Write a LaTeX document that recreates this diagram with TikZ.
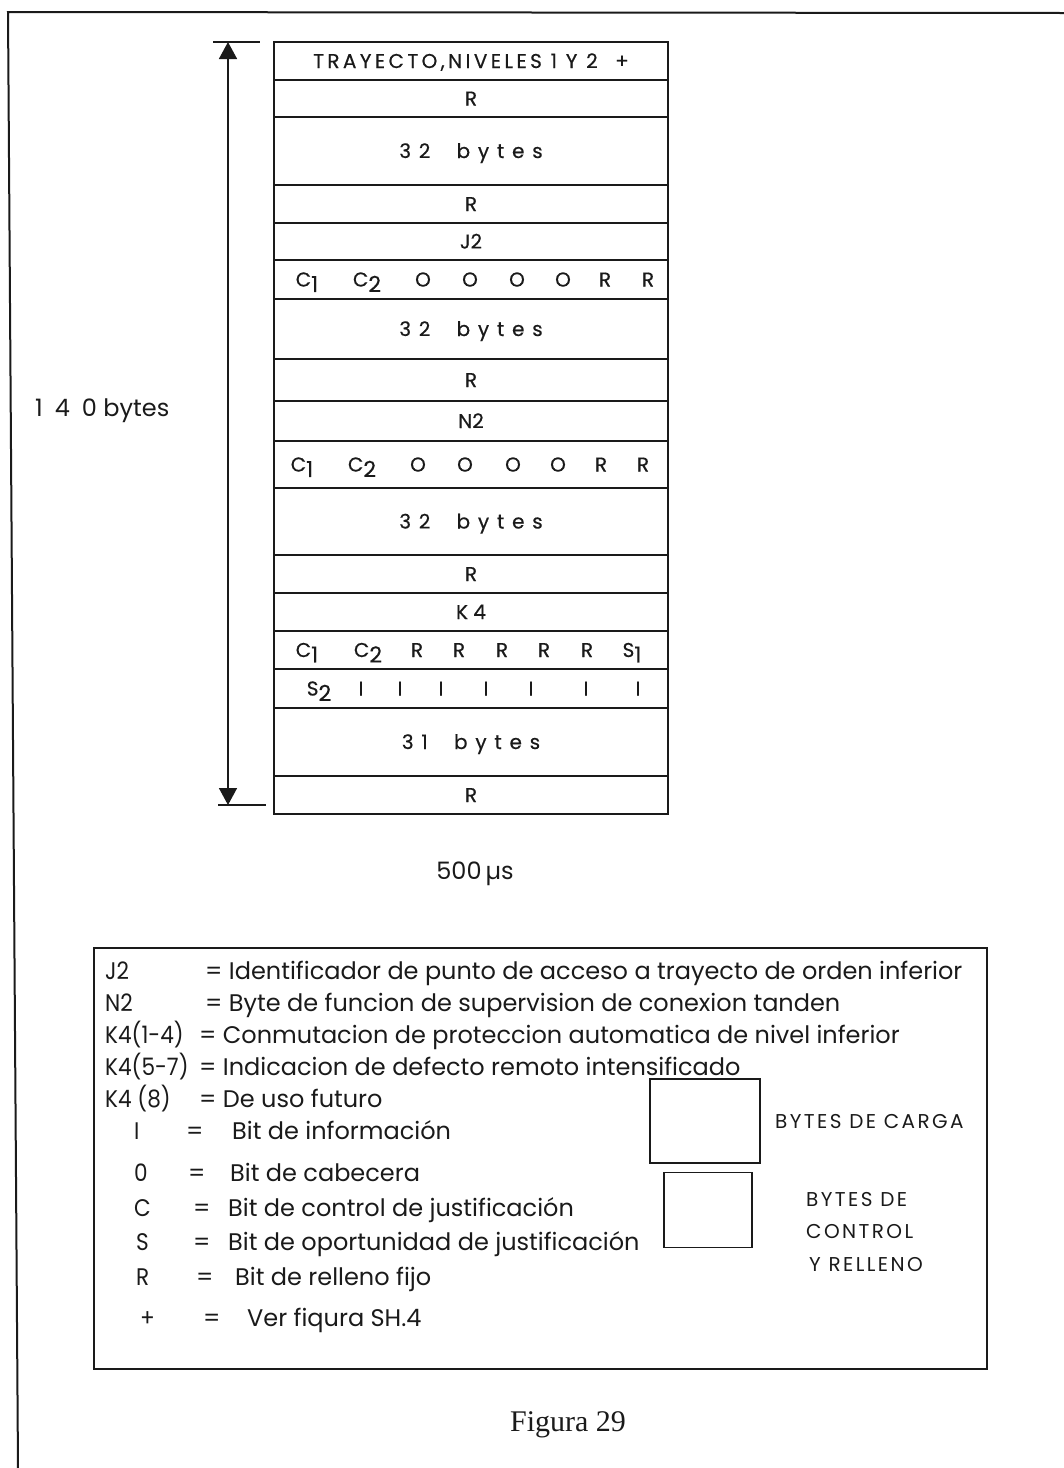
\documentclass[tikz,border=0pt]{standalone}
\usepackage{fontspec}
\setmainfont{Poppins}
\newfontfamily\fieldfont[FakeBold=0.5]{Poppins}
\newfontfamily\legfont{Poppins}
\newfontfamily\keyfont[FakeStretch=0.9]{Poppins}
\newfontfamily\hdrfont[LetterSpace=17,FakeBold=0.5]{Poppins}
\newfontfamily\bytesfont[LetterSpace=39,FakeBold=0.5]{Poppins}
\newfontfamily\capsfont[LetterSpace=12]{Poppins}
\newfontfamily\captionfont{Liberation Serif}
\usetikzlibrary{arrows.meta,positioning}
\definecolor{Ink}{HTML}{1A1A1A}
\tikzset{
  field/.style={
    draw=Ink, line width=1.8pt, minimum width=394pt, inner sep=0pt, outer sep=0pt,
    text height=14pt, text depth=0pt, font=\fieldfont\fontsize{20}{22}\selectfont, text=Ink
  },
  bit/.style={inner sep=0pt, text height=14pt, text depth=0pt, font=\fieldfont\fontsize{20}{22}\selectfont, text=Ink},
  legtext/.style={anchor=west, inner sep=0pt, text height=17pt, text depth=0pt,
    font=\legfont\fontsize{24}{26}\selectfont, text=Ink},
  legkey/.style={legtext, font=\keyfont\fontsize{24}{26}\selectfont},
  keybox/.style={draw=Ink, line width=1.8pt, inner sep=0pt},
  rule/.style={draw=Ink, line width=1.8pt},
  span/.style={{Triangle[length=17pt,width=18pt]}-{Triangle[length=17pt,width=18pt]}, draw=Ink, line width=1.6pt}
}
\newcommand{\bitsub}[2]{#1\raisebox{-0.5ex}{\fontsize{22}{22}\selectfont#2}}

\begin{document}
\begin{tikzpicture}[x=1pt,y=-1pt]
  \useasboundingbox (0,0) rectangle (1064,1468);
  % page frame
  \draw[rule, line width=2pt] (1064,13) -- (8,12) -- (18,1468);

  % frame, top to bottom
  \node[field, minimum height=38pt, anchor=north west] (hdr) at (274,42) {\hdrfont TRAYECTO,NIVELES 1 Y 2 \ +};
  \node[field, minimum height=37pt, below=0pt of hdr] (r1) {R};
  \node[field, minimum height=68pt, below=0pt of r1] (p1) {\bytesfont 32\ \ bytes};
  \node[field, minimum height=38pt, below=0pt of p1] (r2) {R};
  \node[field, minimum height=37pt, below=0pt of r2] (j2) {J2};
  \node[field, minimum height=39pt, below=0pt of j2] (b1) {};
  \node[field, minimum height=60pt, below=0pt of b1] (p2) {\bytesfont 32\ \ bytes};
  \node[field, minimum height=42pt, below=0pt of p2] (r3) {R};
  \node[field, minimum height=40pt, below=0pt of r3] (n2) {N2};
  \node[field, minimum height=47pt, below=0pt of n2] (b2) {};
  \node[field, minimum height=67pt, below=0pt of b2] (p3) {\bytesfont 32\ \ bytes};
  \node[field, minimum height=38pt, below=0pt of p3] (r4) {R};
  \node[field, minimum height=38pt, below=0pt of r4] (k4) {K 4};
  \node[field, minimum height=38pt, below=0pt of k4] (b3) {};
  \node[field, minimum height=39pt, below=0pt of b3] (b4) {};
  \node[field, minimum height=68pt, below=0pt of b4] (p4) {\bytesfont 31\ \ bytes};
  \node[field, minimum height=38pt, below=0pt of p4] (r5) {R};

  % bits
  \foreach \x/\t [count=\i] in {307/{\bitsub{C}{1}},367/{\bitsub{C}{2}},423/O,470/O,517/O,563/O,605/R,648/R}
    \node[bit] (ba\i) at (\x,0 |- b1) {\t};
  \foreach \x/\t [count=\i] in {302/{\bitsub{C}{1}},362/{\bitsub{C}{2}},418/O,465/O,513/O,558/O,601/R,643/R}
    \node[bit] (bb\i) at (\x,0 |- b2) {\t};
  \foreach \x/\t [count=\i] in {307/{\bitsub{C}{1}},368/{\bitsub{C}{2}},417/R,459/R,502/R,544/R,587/R,632/{\bitsub{S}{1}}}
    \node[bit] (bc\i) at (\x,0 |- b3) {\t};
  \foreach \x/\t [count=\i] in {319/{\bitsub{S}{2}},361/I,400/I,441/I,486/I,531/I,586/I,638/I}
    \node[bit] (bd\i) at (\x,0 |- b4) {\t};

  % 140 bytes span
  \coordinate (spantop) at (228,42);
  \coordinate (spanbot) at (228,805);
  \draw[span] (spantop) -- (spanbot);
  \draw[rule] (spantop) ++(-15,0) -- ++(47,0);
  \draw[rule] (spanbot) ++(-10,0) -- ++(48,0);
  \node[legtext] (total) at (35,408) {1\,\,\,4\,\,\,0 bytes};
  \node[legtext, anchor=center] (period) at (475,871) {500\,µs};

  % legend
  \node[keybox, line width=2.2pt, minimum width=893pt, minimum height=421pt, anchor=north west] (legend) at (93,947) {};
  \foreach \y/\k/\e/\t [count=\i] in {971/J2/205/{Identificador de punto de acceso a trayecto de orden inferior},
      1003/N2/205/{Byte de funcion de supervision de conexion tanden},
      1035/K4(1-4)/199/{Conmutacion de proteccion automatica de nivel inferior},
      1067/K4(5-7)/199/{Indicacion de defecto remoto intensificado},
      1099/K4 (8)/199/{De uso futuro}} {
    \node[legkey] (key\i) at (105,\y) {\k};
    \node[legtext] (def\i) at (\e,\y) {= \t};
  }
  \foreach \y/\k/\kx/\ex/\tx/\t [count=\i] in {1131/I/134/186/232/{Bit de información},
      1173/0/134/188/230/{Bit de cabecera},
      1208/C/134/193/228/{Bit de control de justificación},
      1242/S/136/193/228/{Bit de oportunidad de justificación},
      1277/R/136/196/235/{Bit de relleno fijo},
      1318/+/140/203/247/{Ver fiqura SH.4}} {
    \node[legkey] (sym\i) at (\kx,\y) {\k};
    \node[legtext] (eq\i) at (\ex,\y) {=};
    \node[legtext] (txt\i) at (\tx,\y) {\t};
  }
  \node[keybox, minimum width=110pt, minimum height=84pt] (loadbox) at (705,1121) {};
  \node[legtext, font=\capsfont\fontsize{20}{22}\selectfont] (loadtxt) at (775,1120) {BYTES DE CARGA};
  \node[keybox, minimum width=88pt, minimum height=75pt] (ctrlbox) at (708,1210) {};
  \node[legtext, font=\capsfont\fontsize{20}{22}\selectfont] (ctrl1) at (806,1198) {BYTES DE};
  \node[legtext, font=\capsfont\fontsize{20}{22}\selectfont] (ctrl2) at (806,1230) {CONTROL};
  \node[legtext, font=\capsfont\fontsize{20}{22}\selectfont] (ctrl3) at (809,1263) {Y RELLENO};

  \node[font=\captionfont\fontsize{30}{32}\selectfont, text=Ink] (caption) at (568,1425) {Figura 29};
\end{tikzpicture}
\end{document}
